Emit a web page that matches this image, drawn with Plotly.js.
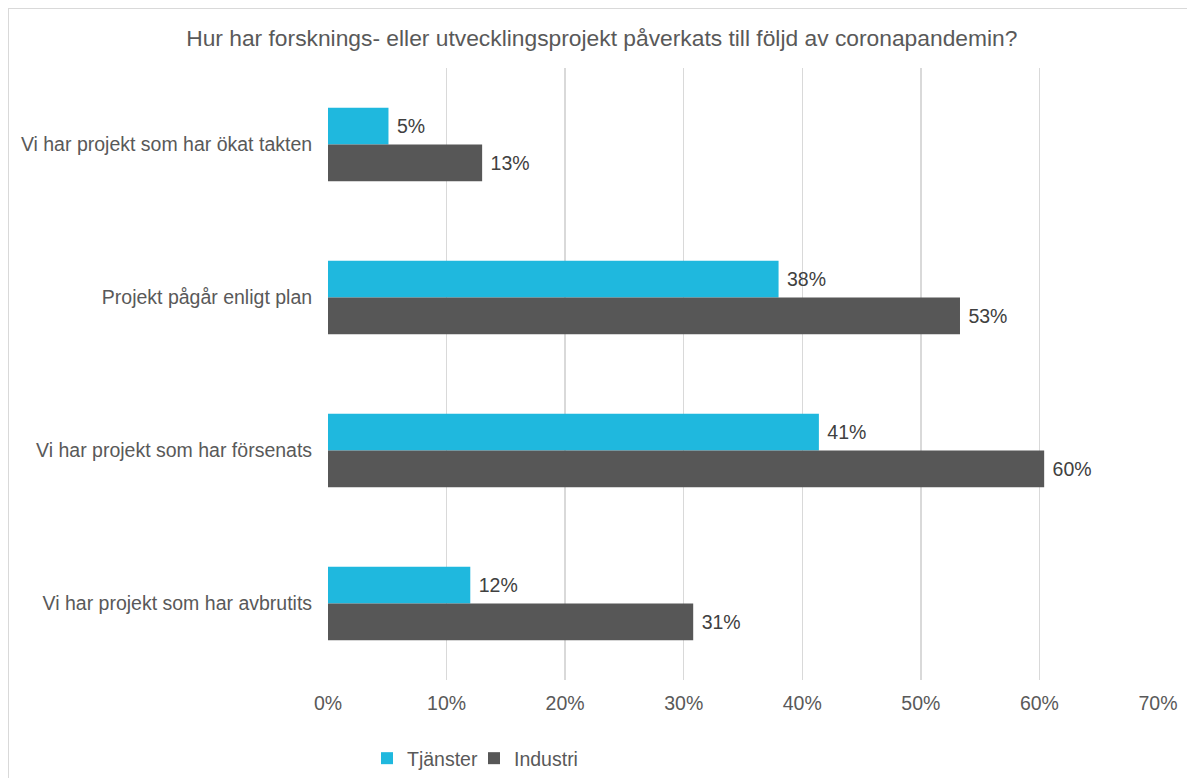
<!DOCTYPE html>
<html>
<head>
<meta charset="utf-8">
<script src="https://cdn.plot.ly/plotly-3.0.1.min.js"></script>
<style>
html,body{margin:0;padding:0;background:#fff;}
#wrap{position:absolute;left:0;top:0;width:1187px;height:778px;overflow:hidden;}
#frame{position:absolute;left:8px;top:8px;width:1185px;height:780px;border:1px solid #d9d9d9;pointer-events:none;}
#chart{position:absolute;left:0;top:0;width:1187px;height:778px;}
</style>
</head>
<body>
<div id="wrap"><div id="chart"></div><div id="frame"></div></div>
<script>
const categories = [
  "Vi har projekt som har ökat takten",
  "Projekt pågår enligt plan",
  "Vi har projekt som har försenats",
  "Vi har projekt som har avbrutits"
];
const seriesNames = ["Tjänster", "Industri"];
const tjanster = [5.1, 38.0, 41.4, 12.0];
const industri = [13.0, 53.3, 60.4, 30.8];
const tickValues = [0, 10, 20, 30, 40, 50, 60, 70];
const tickLabels = ["0%", "10%", "20%", "30%", "40%", "50%", "60%", "70%"];

const font = "Liberation Sans, Arial, sans-serif";
const colors = ["#1FB8DE", "#575757"];

const traces = [tjanster, industri].map((vals, i) => ({
  type: "bar",
  orientation: "h",
  name: seriesNames[i],
  y: categories,
  x: vals,
  marker: {color: colors[i]},
  texttemplate: "\u00a0%{x:.0f}%",
  textposition: "outside",
  cliponaxis: false,
  textfont: {family: font, size: 19.5, color: "#404040"},
  hoverinfo: "none"
}));

const layout = {
  width: 1187, height: 778,
  margin: {l: 327.5, r: 29, t: 68, b: 98, pad: 0},
  paper_bgcolor: "#fff", plot_bgcolor: "#fff",
  barmode: "group",
  bargap: 0.52, bargroupgap: 0,
  title: {text: "Hur har forsknings- eller utvecklingsprojekt påverkats till följd av coronapandemin?",
          font: {family: font, size: 22.8, color: "#595959"},
          x: 0.507, xanchor: "center", y: 0.951, yanchor: "middle"},
  xaxis: {range: [0, 70], tickvals: tickValues, ticktext: tickLabels,
          showgrid: true, gridcolor: "#D9D9D9", gridwidth: 1.3, zeroline: false,
          showline: false, ticks: "outside", ticklen: 6, tickcolor: "rgba(0,0,0,0)",
          tickfont: {family: font, size: 19.5, color: "#595959"}, fixedrange: true,
          automargin: false},
  yaxis: {type: "category", autorange: "reversed", showgrid: false, zeroline: false,
          showline: false, ticks: "outside", ticklen: 11, tickcolor: "rgba(0,0,0,0)",
          tickfont: {family: font, size: 19.5, color: "#595959"}, fixedrange: true,
          automargin: false},
  showlegend: true,
  legend: {orientation: "h", xref: "paper", x: 0.047, xanchor: "left",
           yref: "container", y: 0.0, yanchor: "bottom",
           font: {family: font, size: 19.5, color: "#595959"}, itemwidth: 30,
           entrywidth: 62, entrywidthmode: "pixels",
           traceorder: "normal"},
  font: {family: font}
};

Plotly.newPlot("chart", traces, layout, {displayModeBar: false, staticPlot: true});
</script>
</body>
</html>
